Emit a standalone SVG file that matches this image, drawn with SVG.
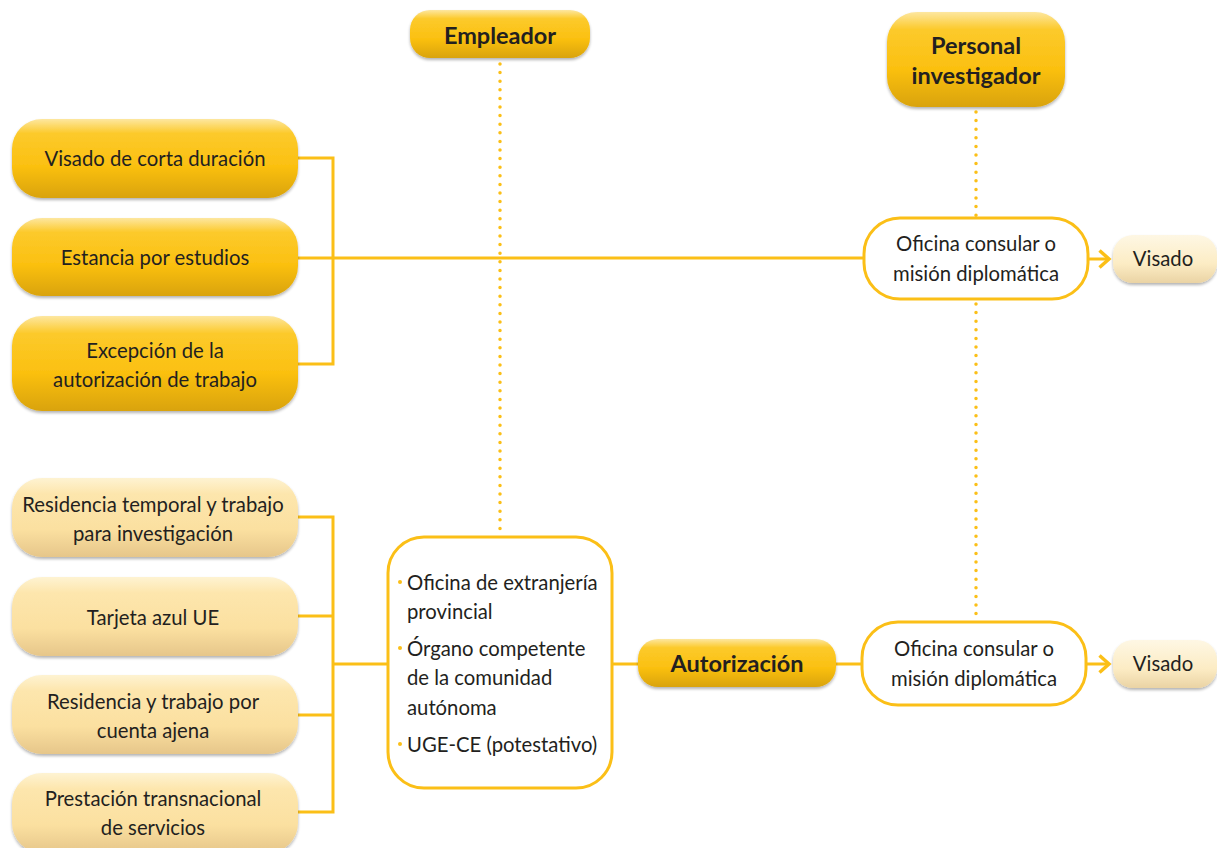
<svg xmlns="http://www.w3.org/2000/svg" width="1217" height="848" viewBox="0 0 1217 848">
<defs>
<linearGradient id="gDark" x1="0" y1="0" x2="0" y2="1">
<stop offset="0" stop-color="#fde7a0"/>
<stop offset="0.18" stop-color="#fcca2c"/>
<stop offset="0.6" stop-color="#fbc010"/>
<stop offset="1" stop-color="#d9a30c"/>
</linearGradient>
<linearGradient id="gLight" x1="0" y1="0" x2="0" y2="1">
<stop offset="0" stop-color="#fef3d2"/>
<stop offset="0.2" stop-color="#fde6ad"/>
<stop offset="0.65" stop-color="#fbe0a0"/>
<stop offset="1" stop-color="#e6c68a"/>
</linearGradient>
<linearGradient id="gVis" x1="0" y1="0" x2="0" y2="1">
<stop offset="0" stop-color="#fef7e4"/>
<stop offset="0.6" stop-color="#fcecc4"/>
<stop offset="1" stop-color="#ead3a4"/>
</linearGradient>
<filter id="sh" x="-10%" y="-10%" width="120%" height="130%">
<feGaussianBlur in="SourceAlpha" stdDeviation="1.5"/>
<feOffset dx="0" dy="1.5" result="b"/>
<feComponentTransfer><feFuncA type="linear" slope="0.3"/></feComponentTransfer>
<feMerge><feMergeNode/><feMergeNode in="SourceGraphic"/></feMerge>
</filter>
<marker id="chev" viewBox="0 0 14 20" refX="11" refY="10" markerWidth="14" markerHeight="20" markerUnits="userSpaceOnUse" orient="auto">
<path d="M1.5,1.5 L11,10 L1.5,18.5" fill="none" stroke="#fbbf17" stroke-width="3.5"/>
</marker>
</defs>
<style>
text{font-family:Lato,"Liberation Sans",sans-serif;fill:#231f20;text-anchor:middle;font-size:20.3px}
.b{font-weight:bold;font-size:23.5px}
.dark{fill:url(#gDark);filter:url(#sh)}
.light{fill:url(#gLight);filter:url(#sh)}
.vis{fill:url(#gVis);filter:url(#sh)}
.wb{fill:#fff;stroke:#fbbf17;stroke-width:3}
.ln{fill:none;stroke:#fbbf17;stroke-width:3}
.dot{fill:none;stroke:#fbbf17;stroke-width:3.5;stroke-linecap:round;stroke-dasharray:0 8.6}
.bl{text-anchor:start}
.bul{fill:#fbbf17}
</style>
<rect width="1217" height="848" fill="#fff"/>
<g id="connectors">
<path class="ln" d="M298,158 H333 V364 H298 M298,258 H864"/>
<path class="ln" d="M298,517 H333 V812 H298 M298,616 H333 M298,715 H333 M333,664 H388"/>
<path class="ln" d="M612,664 H638 M836,664 H862"/>
<path class="ln" d="M1088,259 H1109" marker-end="url(#chev)"/>
<path class="ln" d="M1086,664 H1109" marker-end="url(#chev)"/>
<path class="dot" d="M500,64 V536"/>
<path class="dot" d="M976,112 V216"/>
<path class="dot" d="M976,304 V620"/>
</g>
<g id="n-visado-corta"><rect class="dark" x="12" y="119" width="286" height="79" rx="30"/><text x="155" y="166">Visado de corta duración</text></g>
<g id="n-estancia"><rect class="dark" x="12" y="218" width="286" height="78" rx="30"/><text x="155" y="265">Estancia por estudios</text></g>
<g id="n-excepcion"><rect class="dark" x="12" y="316" width="286" height="95" rx="30"/><text x="155" y="358">Excepción de la</text><text x="155" y="387">autorización de trabajo</text></g>
<g id="n-empleador"><rect class="dark" x="410" y="10" width="180" height="48" rx="20"/><text class="b" x="500" y="44">Empleador</text></g>
<g id="n-personal"><rect class="dark" x="887" y="12" width="178" height="95" rx="30"/><text class="b" x="976" y="54">Personal</text><text class="b" x="976" y="84">investigador</text></g>
<g id="n-consular1"><rect class="wb" x="864" y="218" width="224" height="81" rx="36"/><text x="976" y="251">Oficina consular o</text><text x="976" y="281">misión diplomática</text></g>
<g id="n-visado1"><rect class="vis" x="1113" y="235" width="104" height="48" rx="20"/><text x="1163" y="266">Visado</text></g>
<g id="n-residencia-inv"><rect class="light" x="12" y="478" width="286" height="79" rx="30"/><text x="153" y="512">Residencia temporal y trabajo</text><text x="153" y="541">para investigación</text></g>
<g id="n-tarjeta"><rect class="light" x="12" y="577" width="286" height="79" rx="30"/><text x="153" y="625">Tarjeta azul UE</text></g>
<g id="n-residencia-ajena"><rect class="light" x="12" y="675" width="286" height="79" rx="30"/><text x="153" y="709">Residencia y trabajo por</text><text x="153" y="738">cuenta ajena</text></g>
<g id="n-prestacion"><rect class="light" x="12" y="773" width="286" height="80" rx="30"/><text x="153" y="806">Prestación transnacional</text><text x="153" y="835">de servicios</text></g>
<g id="n-organos"><rect class="wb" x="388" y="537" width="224" height="251" rx="36"/>
<circle class="bul" cx="400" cy="582" r="2"/><circle class="bul" cx="400" cy="648" r="2"/><circle class="bul" cx="400" cy="744" r="2"/>
<text class="bl" x="407" y="590">Oficina de extranjería</text><text class="bl" x="407" y="619">provincial</text>
<text class="bl" x="407" y="656">Órgano competente</text><text class="bl" x="407" y="685">de la comunidad</text><text class="bl" x="407" y="715">autónoma</text>
<text class="bl" x="407" y="752">UGE-CE (potestativo)</text></g>
<g id="n-autorizacion"><rect class="dark" x="638" y="639" width="198" height="48" rx="20"/><text class="b" x="737" y="672">Autorización</text></g>
<g id="n-consular2"><rect class="wb" x="862" y="622" width="224" height="83" rx="36"/><text x="974" y="656">Oficina consular o</text><text x="974" y="686">misión diplomática</text></g>
<g id="n-visado2"><rect class="vis" x="1113" y="640" width="104" height="48" rx="20"/><text x="1163" y="671">Visado</text></g>
</svg>
